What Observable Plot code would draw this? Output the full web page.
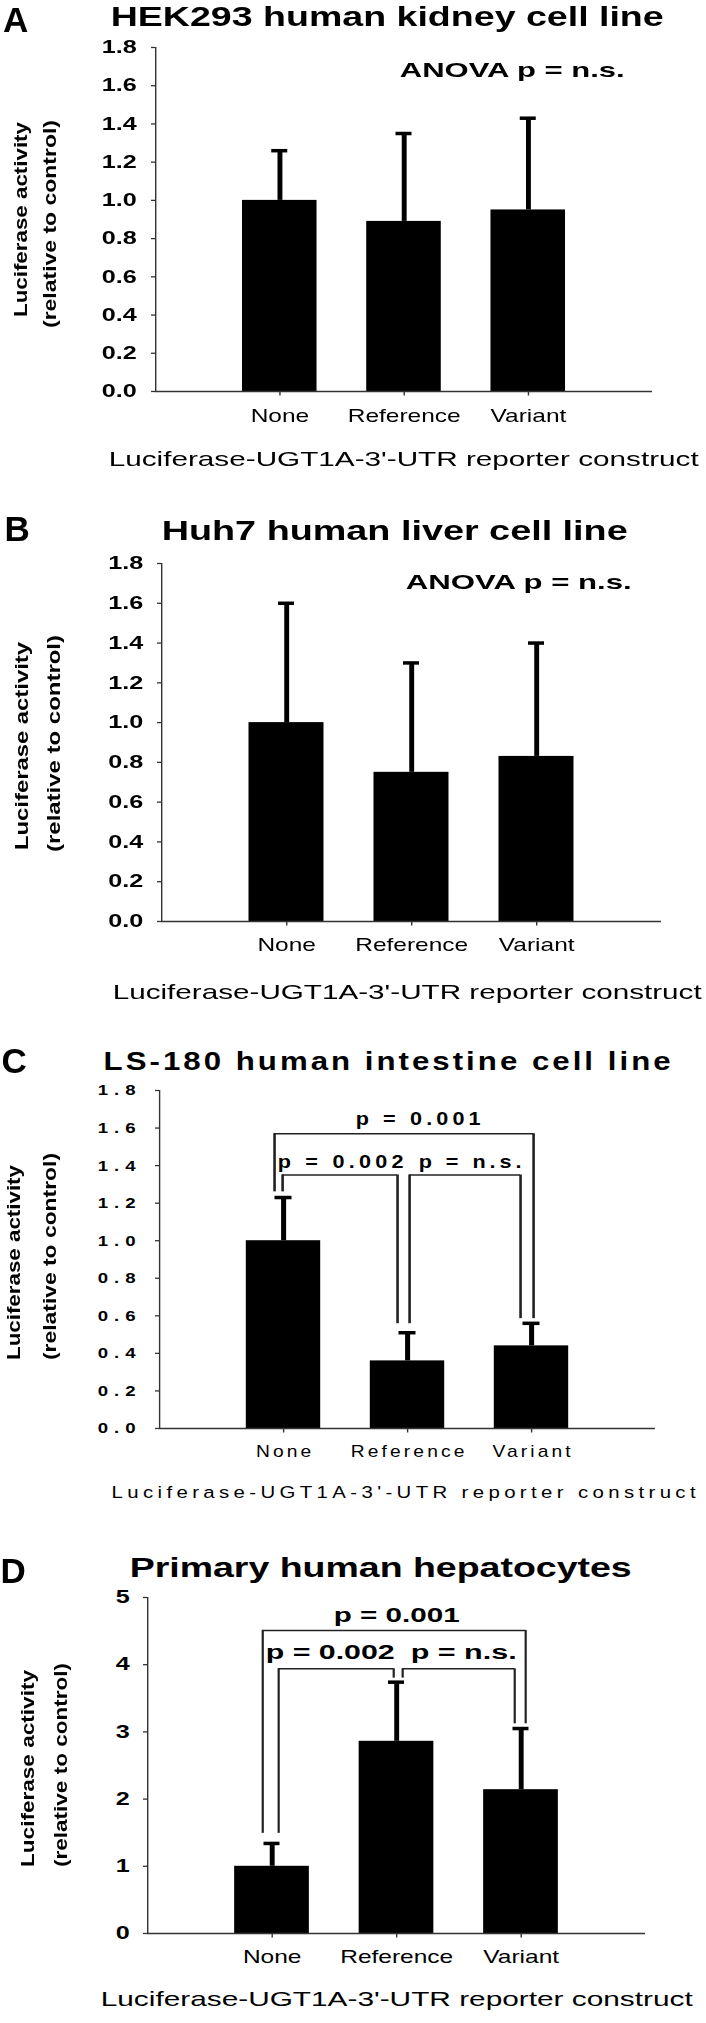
<!DOCTYPE html>
<html>
<head>
<meta charset="utf-8">
<script src="https://cdn.jsdelivr.net/npm/d3@7"></script>
<script src="https://cdn.jsdelivr.net/npm/@observablehq/plot@0.6"></script>
<style>
  html, body { margin: 0; padding: 0; background: #fff; }
  #page { position: relative; width: 706px; height: 2023px; overflow: hidden; background: #fff;
          font-family: "Liberation Sans", Arial, Helvetica, sans-serif; }
  .panel { position: absolute; left: 0; transform-origin: 0 0; }
  .panel svg { display: block; }
  #overlay { position: absolute; left: 0; top: 0; pointer-events: none; }
</style>
</head>
<body>
<div id="page"></div>
<script>
// ---------------- data ----------------
const categories = ["None", "Reference", "Variant"];

const meansA  = [1.00, 0.89, 0.95];
const errTopA = [1.26, 1.35, 1.43];
const meansB  = [1.00, 0.75, 0.83];
const errTopB = [1.60, 1.30, 1.40];
const meansC  = [1.00, 0.36, 0.44];
const errTopC = [1.23, 0.51, 0.56];
const meansD  = [1.00, 2.86, 2.14];
const errTopD = [1.34, 3.74, 3.05];

const ticksFrac = [0, 0.2, 0.4, 0.6, 0.8, 1.0, 1.2, 1.4, 1.6, 1.8];
const ticksInt  = [0, 1, 2, 3, 4, 5];

const titles = ["HEK293 human kidney cell line", "Huh7 human liver cell line",
                "LS-180 human intestine cell line", "Primary human hepatocytes"];
const panelLetters = ["A", "B", "C", "D"];
const xTitle = "Luciferase-UGT1A-3'-UTR reporter construct";
const yTitle = ["Luciferase activity", "(relative to control)"];

// annotations (x in category position units 1..3 = label start, y in data units = baseline)
const notesA = [{label: "ANOVA p = n.s.", tx: 1.964, ty: 1.648}];
const notesB = [{label: "ANOVA p = n.s.", tx: 1.952, ty: 1.674}];
const bracketsC = [
  {label: "p = 0.001", x1: 0.927, x2: 3.016, y: 1.57, end1: 1.26,  end2: 0.585, tx: 1.581, ty: 1.617},
  {label: "p = 0.002", x1: 0.992, x2: 1.919, y: 1.35, end1: 1.26,  end2: 0.558, tx: 0.952, ty: 1.388},
  {label: "p = n.s.",  x1: 2.016, x2: 2.911, y: 1.35, end1: 0.558, end2: 0.585, tx: 2.089, ty: 1.388}
];
const bracketsD = [
  {label: "p = 0.001", x1: 0.924, x2: 3.036, y: 4.51, end1: 1.49, end2: 3.12, tx: 1.494, ty: 4.63},
  {label: "p = 0.002", x1: 1.052, x2: 1.976, y: 3.94, end1: 1.49, end2: 3.80, tx: 0.948, ty: 4.09},
  {label: "p = n.s.",  x1: 2.048, x2: 2.948, y: 3.94, end1: 3.80, end2: 3.12, tx: 2.112, ty: 4.09}
];

// ---------------- layout ----------------
const FONT = '"Liberation Sans", Arial, Helvetica, sans-serif';
const fmt1 = d => d.toFixed(1);
const fmt0 = d => String(d);
const fsStd = {title: 27, yTick: 18, xTick: 17.5, xTitle: 21, note: 21};

const panels = [
  {means: meansA, errTop: errTopA, ticks: ticksFrac, max: 1.8, fmt: fmt1, title: titles[0],
   top: 0, height: 490, s: 1.4, xL: 155, xR: 652, yTopPx: 47, y0Px: 391,
   titleX: [110, 663], titleBase: 26, xTitleX: [108, 698], xTitleBase: 466,
   xTickCap: 18, yLabelRight: 136, fs: fsStd, ls: {}, adjust: "spacingAndGlyphs",
   noteLen: {"ANOVA p = n.s.": 225},
   err: 3.5, cap: 3.5, capHalf: 8, notes: notesA, brackets: null},
  {means: meansB, errTop: errTopB, ticks: ticksFrac, max: 1.8, fmt: fmt1, title: titles[1],
   top: 490, height: 535, s: 1.4, xL: 161, xR: 661, yTopPx: 563, y0Px: 921,
   titleX: [161, 627], titleBase: 540, xTitleX: [112, 701], xTitleBase: 999,
   xTickCap: 17, yLabelRight: 142.5, fs: fsStd, ls: {}, adjust: "spacingAndGlyphs",
   noteLen: {"ANOVA p = n.s.": 226},
   err: 3.5, cap: 3.5, capHalf: 8, notes: notesB, brackets: null},
  {means: meansC, errTop: errTopC, ticks: ticksFrac, max: 1.8, fmt: fmt1, title: titles[2],
   top: 1025, height: 505, s: 1.2, xL: 159, xR: 655, yTopPx: 1090, y0Px: 1428,
   titleX: [103, 670], titleBase: 1070, xTitleX: [111, 695], xTitleBase: 1498,
   xTickCap: 17, yLabelRight: 135,
   fs: {title: 26, yTick: 15.5, xTick: 16, xTitle: 17, note: 18},
   ls: {yTick: 5, xTick: 2.6}, adjust: "spacing",
   noteLen: {"p = 0.001": 125, "p = 0.002": 126, "p = n.s.": 103},
   err: 4.2, cap: 3.5, capHalf: 8.5, notes: null, brackets: bracketsC, legW: 2.6, hW: 1.4},
  {means: meansD, errTop: errTopD, ticks: ticksInt, max: 5, fmt: fmt0, title: titles[3],
   top: 1530, height: 493, s: 1.4, xL: 147, xR: 645, yTopPx: 1597, y0Px: 1933,
   titleX: [129, 631], titleBase: 1577, xTitleX: [100, 692], xTitleBase: 2006,
   xTickCap: 17, yLabelRight: 129, fs: Object.assign({}, fsStd, {note: 20}), ls: {},
   adjust: "spacingAndGlyphs",
   noteLen: {"p = 0.001": 126, "p = 0.002": 129, "p = n.s.": 106},
   err: 3.5, cap: 3.5, capHalf: 8, notes: null, brackets: bracketsD, legW: 2.2, hW: 1.5}
];

// unstretched page-level text: panel letters and rotated y titles
const letterLayout = [{x: 3, y: 32}, {x: 4.5, y: 541}, {x: 1.5, y: 1073}, {x: 0.5, y: 1583}];
const yTitleLayout = [
  {cx: [20.5, 49.5], bottom: [317, 328],   len: [195, 208], fs: 19, adjust: "spacingAndGlyphs"},
  {cx: [21, 53.5],   bottom: [850, 852],   len: [208, 217], fs: 19, adjust: "spacingAndGlyphs"},
  {cx: [13, 49],     bottom: [1360, 1360], len: [195, 207], fs: 19, adjust: "spacingAndGlyphs"},
  {cx: [27.5, 60],   bottom: [1867, 1867], len: [197, 204], fs: 19, adjust: "spacingAndGlyphs"}
];

// ---------------- build ----------------
const page = document.getElementById("page");

function buildPanel(p) {
  const s = p.s, W = 706 / s;
  const mL = p.xL / s, mR = (706 - p.xR) / s;
  const mT = p.yTopPx - p.top, mB = p.top + p.height - p.y0Px;
  const fs = p.fs;
  const data = categories.map((c, i) => ({
    cat: c, pos: i + 1, lo: i + 1 - 0.3, hi: i + 1 + 0.3, mean: p.means[i], top: p.errTop[i]
  }));
  const yTickSize = 4 / s;
  const yTickPad = (p.xL - p.yLabelRight) / s - yTickSize;
  const xTickSize = 4.5;

  const marks = [
    Plot.rect(data, {x1: "lo", x2: "hi", y1: 0, y2: "mean", fill: "black"}),
    Plot.ruleX(data, {x: "pos", y1: "mean", y2: "top", stroke: "black", strokeWidth: p.err}),
    Plot.ruleY(data, {x1: "pos", x2: "pos", y: "top", stroke: "black", strokeWidth: p.cap,
                      insetLeft: -p.capHalf / s, insetRight: -p.capHalf / s}),
    Plot.ruleY([0], {stroke: "#333", strokeWidth: 1.4}),
    Plot.ruleX([0], {stroke: "#333", strokeWidth: 1.4 / s}),
    Plot.axisY({ticks: p.ticks, tickFormat: p.fmt, tickSize: yTickSize, tickPadding: yTickPad,
                fontSize: fs.yTick, fontWeight: "bold", label: null, stroke: "#333", strokeWidth: 1.3}),
    Plot.axisX({ticks: [1, 2, 3], tickFormat: d => categories[d - 1], tickSize: xTickSize,
                tickPadding: p.xTickCap - xTickSize, fontSize: fs.xTick, label: null,
                stroke: "#333", strokeWidth: 1.4 / s}),
    Plot.text([p.title], {frameAnchor: "top-left", textAnchor: "start",
                          dx: p.titleX[0] / s - mL, dy: p.titleBase - p.yTopPx,
                          lineAnchor: "bottom", fontSize: fs.title, fontWeight: "bold"}),
    Plot.text([xTitle], {frameAnchor: "bottom-left", textAnchor: "start",
                         dx: p.xTitleX[0] / s - mL, dy: p.xTitleBase - p.y0Px,
                         lineAnchor: "bottom", fontSize: fs.xTitle})
  ];
  if (p.notes) {
    marks.push(Plot.text(p.notes, {x: "tx", y: "ty", text: "label", textAnchor: "start",
                                   lineAnchor: "bottom", fontSize: fs.note, fontWeight: "bold"}));
  }
  if (p.brackets) {
    const br = p.brackets;
    marks.push(
      Plot.ruleY(br, {x1: "x1", x2: "x2", y: "y", stroke: "#222", strokeWidth: p.hW}),
      Plot.ruleX(br, {x: "x1", y1: "end1", y2: "y", stroke: "#222", strokeWidth: p.legW / s}),
      Plot.ruleX(br, {x: "x2", y1: "end2", y2: "y", stroke: "#222", strokeWidth: p.legW / s}),
      Plot.text(br, {x: "tx", y: "ty", text: "label", textAnchor: "start", lineAnchor: "bottom",
                     fontSize: fs.note, fontWeight: "bold"})
    );
  }

  const svg = Plot.plot({
    width: W, height: p.height,
    marginLeft: mL, marginRight: mR, marginTop: mT, marginBottom: mB,
    style: {fontFamily: FONT, background: "transparent", overflow: "visible", color: "black"},
    x: {domain: [0, 4]},
    y: {domain: [0, p.max]},
    marks
  });

  const div = document.createElement("div");
  div.className = "panel";
  div.style.top = p.top + "px";
  div.style.width = W + "px";
  div.style.height = p.height + "px";
  div.style.transform = `scaleX(${s})`;
  div.appendChild(svg);
  page.appendChild(div);

  // typographic finishing: fit measured text extents, letter spacing on tick labels
  const lenMap = new Map();
  lenMap.set(p.title, p.titleX[1] - p.titleX[0]);
  lenMap.set(xTitle, p.xTitleX[1] - p.xTitleX[0]);
  for (const k in p.noteLen) lenMap.set(k, p.noteLen[k]);

  svg.querySelectorAll("text").forEach(t => {
    const g = t.closest("g[aria-label]");
    const role = g ? g.getAttribute("aria-label") : "";
    const txt = t.textContent;
    let ls = 0;
    if (role === "y-axis tick label") ls = p.ls.yTick || 0;
    else if (role === "x-axis tick label") ls = p.ls.xTick || 0;
    else if (lenMap.has(txt)) {
      t.setAttribute("textLength", lenMap.get(txt) / s);
      t.setAttribute("lengthAdjust", p.adjust);
    }
    if (ls) {
      t.style.letterSpacing = ls + "px";
      const anchor = getComputedStyle(t).textAnchor;
      if (anchor === "middle") t.setAttribute("dx", ls / 2);
      else if (anchor === "end") t.setAttribute("dx", ls);
    }
  });
}

panels.forEach(buildPanel);

// page-level unstretched texts
const ov = d3.select(page).append("svg").attr("id", "overlay")
  .attr("width", 706).attr("height", 2023)
  .attr("font-family", FONT).attr("fill", "black");

ov.selectAll("text.letter").data(panelLetters).join("text")
  .attr("class", "letter")
  .attr("x", (d, i) => letterLayout[i].x)
  .attr("y", (d, i) => letterLayout[i].y)
  .attr("font-weight", "bold").attr("font-size", 35)
  .text(d => d);

yTitleLayout.forEach((L, i) => {
  yTitle.forEach((line, j) => {
    ov.append("text")
      .attr("transform", `translate(${L.cx[j]},${L.bottom[j]}) rotate(-90)`)
      .attr("x", 0).attr("y", 0).attr("dy", "0.35em")
      .attr("text-anchor", "start")
      .attr("font-weight", "bold").attr("font-size", L.fs)
      .attr("textLength", L.len[j]).attr("lengthAdjust", L.adjust)
      .text(line);
  });
});
</script>
</body>
</html>
